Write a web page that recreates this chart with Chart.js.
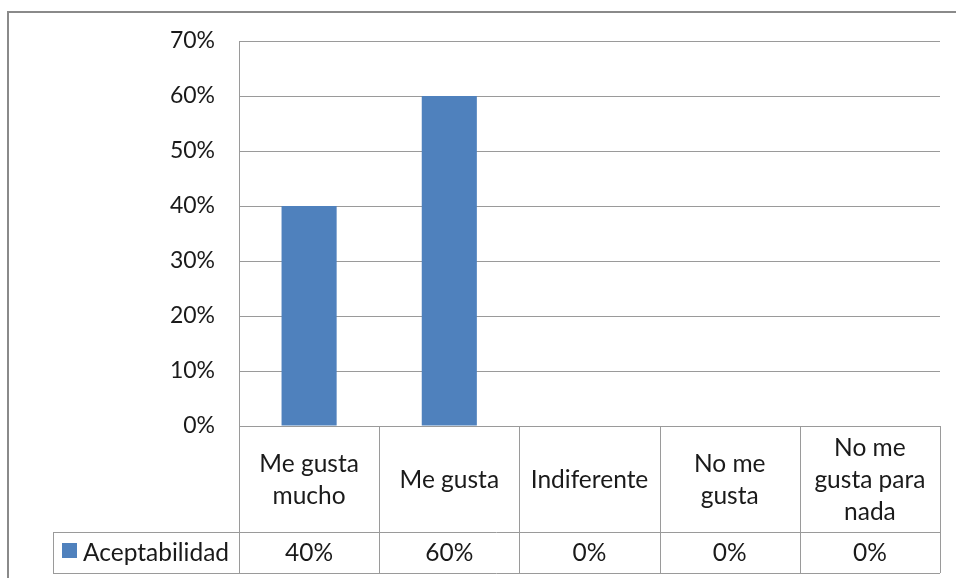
<!DOCTYPE html>
<html>
<head>
<meta charset="utf-8">
<script src="https://cdn.jsdelivr.net/npm/chart.js@4/dist/chart.umd.min.js"></script>
<style>
  html, body { margin: 0; padding: 0; background: #fff; }
  .wrap { position: relative; width: 956px; height: 578px; }
</style>
</head>
<body>
<div class="wrap"><canvas id="myChart" width="956" height="578"></canvas></div>
<script>
const categories = [['Me gusta', 'mucho'], ['Me gusta'], ['Indiferente'], ['No me', 'gusta'], ['No me', 'gusta para', 'nada']];
const seriesName = 'Aceptabilidad';
const aceptabilidad = [40, 60, 0, 0, 0];
const yTicks = [0, 10, 20, 30, 40, 50, 60, 70];

const FONT = 'Lato, "Open Sans", sans-serif';
const TEXT = '#1a1a1a';
const LINE = '#9a9a9a';
const BAR = '#4f81bd';

// grid below the plot: category header row + value row with legend key
const dataTable = {
    id: 'dataTable',
    afterDraw(chart) {
        const { ctx, chartArea, scales: { x } } = chart;
        const band = (chartArea.right - chartArea.left) / categories.length;
        const top = chartArea.bottom;
        const mid = top + 106;
        const bottom = mid + 41;
        const legendLeft = 53;

        ctx.save();
        ctx.strokeStyle = LINE;
        ctx.lineWidth = 1;
        ctx.beginPath();
        ctx.moveTo(chartArea.left + 0.5, top);
        ctx.lineTo(chartArea.left + 0.5, bottom);
        ctx.moveTo(legendLeft, mid + 0.5);
        ctx.lineTo(chartArea.right, mid + 0.5);
        ctx.moveTo(legendLeft, bottom + 0.5);
        ctx.lineTo(chartArea.right, bottom + 0.5);
        ctx.moveTo(legendLeft + 0.5, mid);
        ctx.lineTo(legendLeft + 0.5, bottom);
        categories.forEach((c, i) => {
            const xr = Math.round(x.getPixelForValue(i) + band / 2) + 0.5;
            ctx.moveTo(xr, top);
            ctx.lineTo(xr, bottom);
        });
        ctx.stroke();

        ctx.fillStyle = TEXT;
        ctx.font = '24.5px ' + FONT;
        ctx.textAlign = 'center';
        ctx.textBaseline = 'middle';
        const lh = 32;
        categories.forEach((lines, i) => {
            const cx = x.getPixelForValue(i);
            const cy = (top + mid) / 2 + 1;
            lines.forEach((t, k) => {
                ctx.fillText(t, cx, cy + (k - (lines.length - 1) / 2) * lh);
            });
            ctx.fillText(aceptabilidad[i] + '%', cx, (mid + bottom) / 2 + 1);
        });

        // legend key
        ctx.fillStyle = BAR;
        ctx.fillRect(legendLeft + 9, mid + 11, 15, 15);
        ctx.fillStyle = TEXT;
        ctx.textAlign = 'left';
        ctx.fillText(seriesName, legendLeft + 30, (mid + bottom) / 2 + 1);

        // outer frame
        ctx.strokeStyle = '#8a8a8a';
        ctx.lineWidth = 2;
        ctx.beginPath();
        ctx.moveTo(8, chart.height);
        ctx.lineTo(8, 12);
        ctx.lineTo(chart.width, 12);
        ctx.stroke();
        ctx.restore();
    }
};

new Chart(document.getElementById('myChart'), {
    type: 'bar',
    data: {
        labels: categories,
        datasets: [{
            label: seriesName,
            data: aceptabilidad,
            backgroundColor: BAR,
            categoryPercentage: 1,
            barPercentage: 0.393
        }]
    },
    options: {
        responsive: false,
        animation: false,
        layout: { padding: { top: 41, right: 16, bottom: 152, left: 0 } },
        plugins: { legend: { display: false }, tooltip: { enabled: false } },
        scales: {
            x: { display: false },
            y: {
                min: yTicks[0],
                max: yTicks[yTicks.length - 1],
                afterBuildTicks: (s) => { s.ticks = yTicks.map(v => ({ value: v })); },
                afterFit: (s) => { s.width = 239; },
                grid: { color: LINE, drawTicks: false },
                border: { color: LINE },
                ticks: {
                    padding: 24,
                    color: TEXT,
                    font: { family: FONT, size: 23 },
                    callback: (v) => v + '%'
                }
            }
        }
    },
    plugins: [dataTable]
});
</script>
</body>
</html>
